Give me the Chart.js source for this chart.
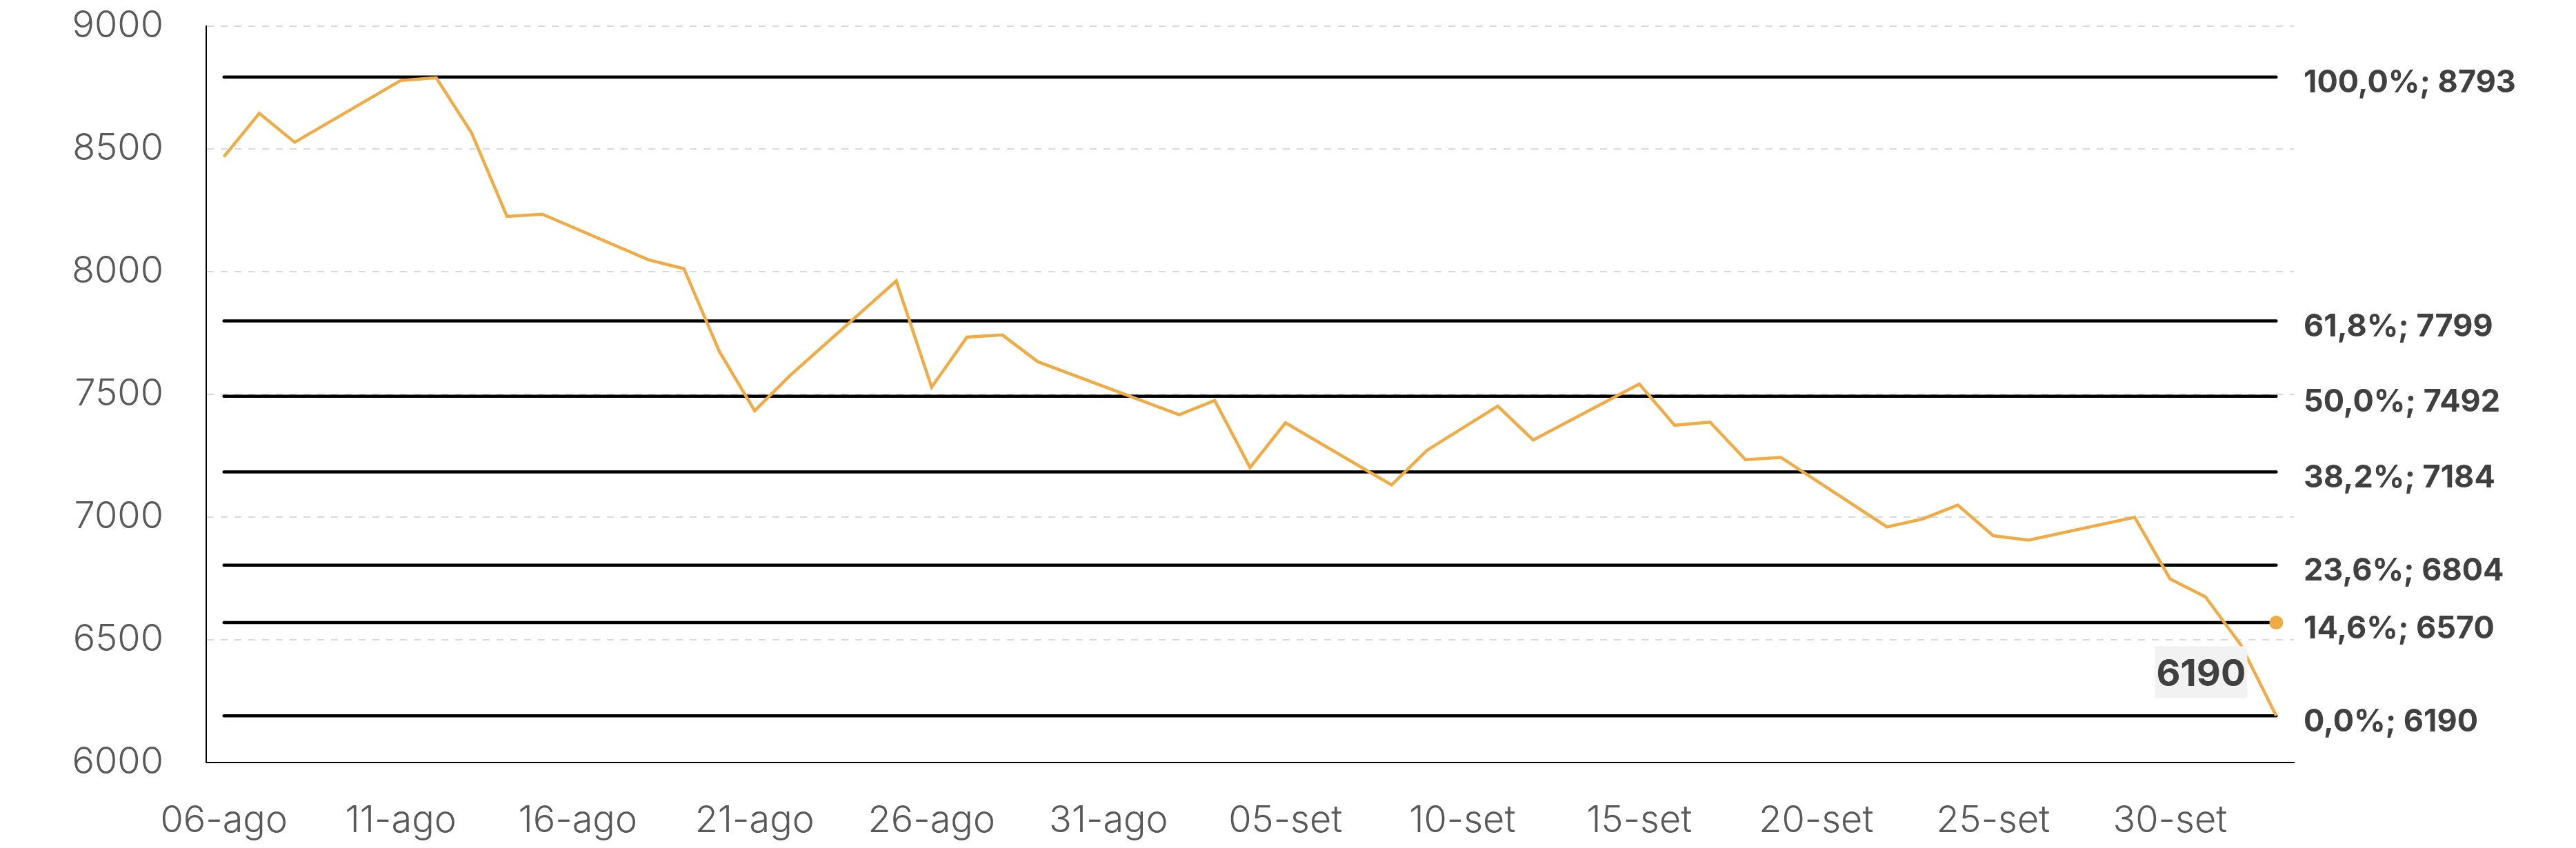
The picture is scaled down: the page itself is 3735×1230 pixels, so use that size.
<!DOCTYPE html>
<html>
<head>
<meta charset="utf-8">
<script src="https://cdn.jsdelivr.net/npm/chart.js@4.4.1/dist/chart.umd.min.js"></script>
<style>
    body { margin: 0; background: #fff; }
    .chart-wrap { width: 3735px; height: 1230px; position: relative; }
</style>
</head>
<body>
<div class="chart-wrap">
    <canvas id="fiboChart"></canvas>
</div>
<script>
// trading days, counted in calendar days from 06-ago
const days = [0, 1, 2, 5, 6, 7, 8, 9, 12, 13, 14, 15, 16, 19, 20, 21, 22, 23, 27, 28, 29, 30,
    33, 34, 35, 36, 37, 40, 41, 42, 43, 44, 47, 48, 49, 50, 51, 54, 55, 56, 57, 58];
const prices = [8468, 8645, 8527, 8779, 8790, 8565, 8225, 8234, 8048, 8012, 7675, 7433, 7577, 7962,
    7529, 7733, 7742, 7633, 7417, 7475, 7202, 7384, 7131, 7272, 7362, 7452, 7314, 7542, 7374, 7387,
    7234, 7243, 6960, 6992, 7049, 6924, 6906, 6999, 6748, 6675, 6479, 6190];

const tickDays = [0, 5, 10, 15, 20, 25, 30, 35, 40, 45, 50, 55];
const tickLabels = ['06-ago', '11-ago', '16-ago', '21-ago', '26-ago', '31-ago',
    '05-set', '10-set', '15-set', '20-set', '25-set', '30-set'];

const fibPct = ['100,0%', '61,8%', '50,0%', '38,2%', '23,6%', '14,6%', '0,0%'];
const fibLevels = [8793, 7799, 7492, 7184, 6804, 6570, 6190];

const markerLevel = 6570;
const lastLabel = '6190';

const orange = '#F0AB45';
const firstDay = days[0];
const lastDay = days[days.length - 1];

const fibDatasets = fibLevels.map(lv => ({
    data: [{ x: firstDay, y: lv }, { x: lastDay, y: lv }],
    borderColor: '#000',
    borderWidth: 4.5,
    borderCapStyle: 'round',
    pointRadius: 0,
    order: 2
}));

const fibLabelsPlugin = {
    id: 'fibLabels',
    afterDatasetsDraw(chart) {
        const { ctx, chartArea, scales } = chart;
        ctx.save();
        ctx.font = 'bold 45px Inter';
        ctx.fillStyle = '#404040';
        ctx.textBaseline = 'middle';
        ctx.textAlign = 'left';
        fibLevels.forEach((lv, i) => {
            ctx.fillText(fibPct[i] + '; ' + lv, chartArea.right + 14, scales.y.getPixelForValue(lv) + 9);
        });

        // box with last value
        const meta = chart.getDatasetMeta(0);
        const last = meta.data[meta.data.length - 1];
        ctx.font = 'bold 54px Inter';
        const w = ctx.measureText(lastLabel).width + 4;
        const h = 75;
        const right = last.x - 42;
        const bottom = last.y - 26;
        ctx.fillStyle = '#f2f2f2';
        ctx.fillRect(right - w, bottom - h, w, h);
        ctx.fillStyle = '#404040';
        ctx.textAlign = 'center';
        ctx.fillText(lastLabel, right - w / 2, bottom - h / 2 + 4);
        ctx.restore();
    }
};

const ctx = document.getElementById('fiboChart');
new Chart(ctx, {
    type: 'line',
    data: {
        datasets: [
            {
                data: days.map((d, i) => ({ x: d, y: prices[i] })),
                borderColor: orange,
                borderWidth: 4.5,
                pointRadius: 0,
                tension: 0,
                order: 0
            },
            {
                data: [{ x: lastDay, y: markerLevel }],
                showLine: false,
                pointRadius: 10,
                pointBackgroundColor: orange,
                pointBorderWidth: 0,
                order: 1
            },
            ...fibDatasets
        ]
    },
    options: {
        responsive: true,
        maintainAspectRatio: false,
        animation: false,
        devicePixelRatio: 1,
        layout: { padding: { top: 38, right: 409, left: 0, bottom: 0 } },
        plugins: {
            legend: { display: false },
            tooltip: { enabled: false }
        },
        scales: {
            x: {
                type: 'linear',
                min: -0.5,
                max: 58.5,
                grid: { display: false, drawTicks: false },
                border: { display: true, color: '#000', width: 2 },
                afterBuildTicks: scale => {
                    scale.ticks = tickDays.map(v => ({ value: v }));
                },
                afterFit: scale => {
                    scale.height = 124;
                    scale.paddingLeft = 0;
                    scale.paddingRight = 0;
                },
                ticks: {
                    autoSkip: false,
                    maxRotation: 0,
                    padding: 52,
                    color: '#595959',
                    font: { family: 'Inter', size: 54, weight: 300 },
                    callback: v => tickLabels[tickDays.indexOf(v)]
                }
            },
            y: {
                min: 6000,
                max: 9000,
                grid: { color: '#d9d9d9', lineWidth: 2, drawTicks: false },
                border: { display: true, color: '#000', width: 2, dash: [10, 10] },
                afterFit: scale => {
                    scale.width = 299;
                    scale.paddingTop = 0;
                    scale.paddingBottom = 0;
                },
                ticks: {
                    stepSize: 500,
                    padding: 62,
                    color: '#595959',
                    font: { family: 'Inter', size: 54, weight: 300 },
                    callback: v => String(v)
                }
            }
        }
    },
    plugins: [fibLabelsPlugin]
});
</script>
</body>
</html>
